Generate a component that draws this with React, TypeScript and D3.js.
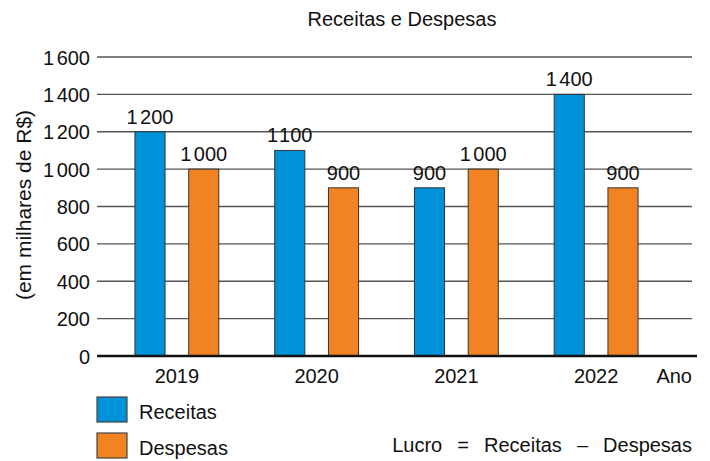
import React from "react";
import * as d3 from "d3";

const years = ["2019", "2020", "2021", "2022"];
const receitas = [1200, 1100, 900, 1400];
const despesas = [1000, 900, 1000, 900];
const seriesNames = ["Receitas", "Despesas"];
const seriesColors = ["#0092d8", "#f28322"];
const yTicks = [0, 200, 400, 600, 800, 1000, 1200, 1400, 1600];

const W = 710;
const H = 461;
const FONT = "'Liberation Sans', Arial, sans-serif";

function NumLabel({ v, x, y, anchor }: { v: number; x: number; y: number; anchor: string }) {
  const s = String(v);
  if (s.length >= 4) {
    return (
      <text x={x} y={y} textAnchor={anchor}>
        {s.slice(0, 1)}
        <tspan dx={2.5}>{s.slice(1)}</tspan>
      </text>
    );
  }
  return (
    <text x={x} y={y} textAnchor={anchor}>
      {s}
    </text>
  );
}

export default function App() {
  const left = 97;
  const right = 692;
  const y = d3.scaleLinear().domain([0, 1600]).range([356, 57]);
  const x0 = d3.scaleBand<string>().domain(years).range([107, 666]).paddingInner(0.4).paddingOuter(0.2);
  const x1 = d3.scaleBand<string>().domain(seriesNames).range([0, x0.bandwidth()]).paddingInner(0.44);
  const data = years.map((yr, i) => ({ yr, vals: [receitas[i], despesas[i]] }));

  return (
    <svg width={W} height={H} style={{ position: "absolute", left: 0, top: 0, fontFamily: FONT }}>
      <rect width={W} height={H} fill="#fff" />
      <text x={402} y={26} textAnchor="middle" fontSize={20} fill="#111">
        Receitas e Despesas
      </text>
      {yTicks.filter((t) => t > 0).map((t) => (
        <line key={t} x1={left} x2={right} y1={y(t)} y2={y(t)} stroke="#555" strokeWidth={1.4} />
      ))}
      <g fontSize={20} fill="#111">
        {yTicks.map((t) => (
          <NumLabel key={t} v={t} x={90} y={y(t) + 7.5} anchor="end" />
        ))}
      </g>
      <text
        transform={`translate(31,205) rotate(-90)`}
        textAnchor="middle"
        fontSize={21}
        fill="#111"
      >
        (em milhares de R$)
      </text>
      {data.map((d) => (
        <g key={d.yr} transform={`translate(${x0(d.yr)},0)`}>
          {d.vals.map((v, j) => (
            <rect
              key={j}
              x={x1(seriesNames[j])}
              y={y(v)}
              width={x1.bandwidth()}
              height={y(0) - y(v)}
              fill={seriesColors[j]}
              stroke="#333"
              strokeWidth={1}
            />
          ))}
          <g fontSize={20} fill="#111">
            {d.vals.map((v, j) => (
              <NumLabel
                key={j}
                v={v}
                x={(x1(seriesNames[j]) as number) + x1.bandwidth() / 2}
                y={y(v) - 8}
                anchor="middle"
              />
            ))}
          </g>
        </g>
      ))}
      <line x1={left} x2={697} y1={y(0)} y2={y(0)} stroke="#111" strokeWidth={2.5} />
      <g fontSize={20} fill="#111">
        {years.map((yr) => (
          <text key={yr} x={(x0(yr) as number) + x0.bandwidth() / 2} y={383} textAnchor="middle">
            {yr}
          </text>
        ))}
        <text x={692} y={383} textAnchor="end">
          Ano
        </text>
      </g>
      <g fontSize={20} fill="#111">
        {seriesNames.map((s, i) => (
          <g key={s} transform={`translate(97,${397 + i * 36})`}>
            <rect x={0} y={0} width={30} height={25} fill={seriesColors[i]} stroke="#444" strokeWidth={1.2} />
            <text x={42} y={22}>
              {s}
            </text>
          </g>
        ))}
        <text x={692} y={452} textAnchor="end" style={{ wordSpacing: "9.5px" }}>
          Lucro = Receitas – Despesas
        </text>
      </g>
    </svg>
  );
}
